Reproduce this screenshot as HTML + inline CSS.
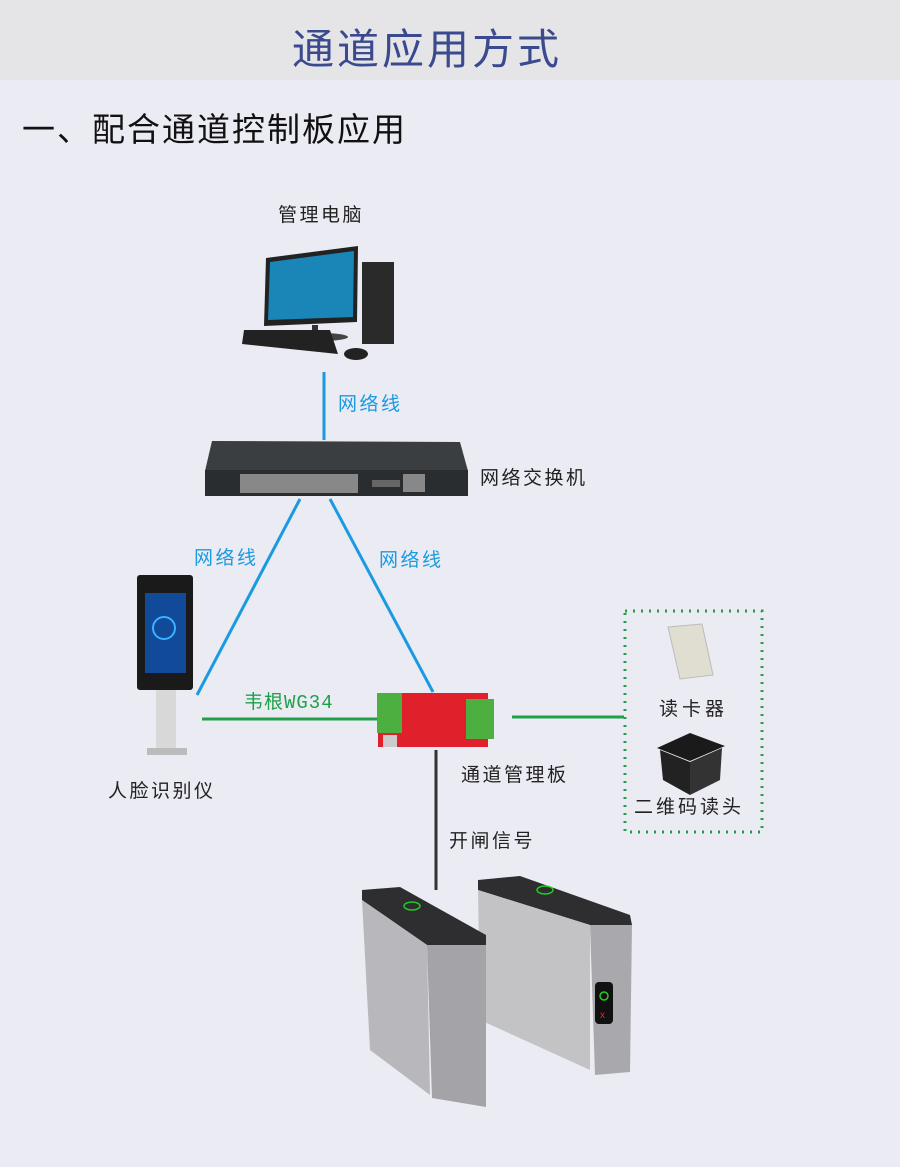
<!DOCTYPE html>
<html><head><meta charset="utf-8"><style>
body{margin:0;width:900px;height:1167px;background:#ebebf4;overflow:hidden;position:relative;font-family:"Liberation Sans","Noto Sans CJK SC",sans-serif;}
.hdr{position:absolute;left:0;top:0;width:900px;height:80px;background:#e5e5e8;}
.t{position:absolute;white-space:nowrap;letter-spacing:2.5px;}
</style></head><body>
<div class="hdr"></div>
<div class="t" style="left:292px;top:16px;font-size:42px;color:#3b4a8e;letter-spacing:3px;">通道应用方式</div>
<div class="t" style="left:22px;top:103px;font-size:33px;color:#111;letter-spacing:2px;">一、配合通道控制板应用</div>
<div class="t" style="left:278px;top:200px;font-size:19px;color:#222;">管理电脑</div>
<div class="t" style="left:338px;top:389px;font-size:19px;color:#1a9ae0;">网络线</div>
<div class="t" style="left:480px;top:463px;font-size:19px;color:#222;">网络交换机</div>
<div class="t" style="left:194px;top:543px;font-size:19px;color:#1a9ae0;">网络线</div>
<div class="t" style="left:379px;top:545px;font-size:19px;color:#1a9ae0;">网络线</div>
<div class="t" style="left:244px;top:687px;font-size:19px;color:#1fa14a;font-family:'Liberation Mono','Noto Sans CJK SC',monospace;letter-spacing:1px;">韦根WG34</div>
<div class="t" style="left:108px;top:776px;font-size:19px;color:#222;">人脸识别仪</div>
<div class="t" style="left:461px;top:760px;font-size:19px;color:#222;">通道管理板</div>
<div class="t" style="left:659px;top:694px;font-size:19px;color:#222;letter-spacing:4px;">读卡器</div>
<div class="t" style="left:634px;top:792px;font-size:19px;color:#222;letter-spacing:3px;">二维码读头</div>
<div class="t" style="left:449px;top:826px;font-size:19px;color:#222;">开闸信号</div>
<svg width="900" height="1167" style="position:absolute;left:0;top:0">
<line x1="324" y1="372" x2="324" y2="440" stroke="#1a9ae0" stroke-width="3"/>
<line x1="300" y1="499" x2="197" y2="695" stroke="#1a9ae0" stroke-width="3"/>
<line x1="330" y1="499" x2="433" y2="692" stroke="#1a9ae0" stroke-width="3"/>
<line x1="202" y1="719" x2="377" y2="719" stroke="#1fa14a" stroke-width="3"/>
<line x1="512" y1="717" x2="624" y2="717" stroke="#1fa14a" stroke-width="3"/>
<line x1="436" y1="750" x2="436" y2="890" stroke="#333" stroke-width="3"/>
<rect x="625" y="611" width="137" height="221" fill="none" stroke="#1fa14a" stroke-width="3" stroke-dasharray="2,6"/>
<polygon points="266,258 358,246 357,322 264,326" fill="#222"/>
<polygon points="270,262 354,251 353,317 268,320" fill="#1a86b8"/>
<rect x="312" y="325" width="6" height="10" fill="#333"/>
<ellipse cx="320" cy="337" rx="28" ry="4" fill="#444"/>
<rect x="362" y="262" width="32" height="82" fill="#2a2a2a"/>
<polygon points="244,330 330,330 338,354 242,344" fill="#222"/>
<ellipse cx="356" cy="354" rx="12" ry="6" fill="#222"/>
<polygon points="212,441 460,442 468,471 205,471" fill="#3a3e40"/>
<rect x="205" y="470" width="263" height="26" fill="#2a2d2f"/>
<rect x="240" y="474" width="118" height="19" fill="#888"/>
<rect x="403" y="474" width="22" height="18" fill="#888"/>
<rect x="372" y="480" width="28" height="7" fill="#666"/>
<rect x="137" y="575" width="56" height="115" rx="3" fill="#1a1a1a"/>
<rect x="145" y="593" width="41" height="80" fill="#124a9a"/>
<circle cx="164" cy="628" r="11" fill="none" stroke="#3bb0ff" stroke-width="2"/>
<rect x="156" y="690" width="20" height="58" fill="#d8d8d8"/>
<rect x="147" y="748" width="40" height="7" fill="#bbb"/>
<rect x="378" y="693" width="110" height="54" fill="#e0202a"/>
<rect x="377" y="693" width="25" height="40" fill="#4caf3f"/>
<rect x="466" y="699" width="28" height="40" fill="#4caf3f"/>
<rect x="383" y="735" width="14" height="12" fill="#ccc"/>
<polygon points="668,627 702,624 713,675 680,679" fill="#e0ded0" stroke="#bbb"/>
<polygon points="657,748 690,733 725,746 690,761" fill="#1a1a1a"/>
<polygon points="660,750 690,762 690,795 663,780" fill="#222"/>
<polygon points="690,762 722,748 720,780 690,795" fill="#333"/>
<polygon points="478,880 520,876 630,915 632,925 590,925 478,890" fill="#2e2e30"/>
<polygon points="478,890 590,925 590,1070 480,1020" fill="#c3c3c6"/>
<polygon points="590,925 632,925 630,1072 595,1075" fill="#a9a9ad"/>
<rect x="595" y="982" width="18" height="42" rx="4" fill="#111"/>
<circle cx="604" cy="996" r="4" fill="none" stroke="#2c2" stroke-width="1.5"/>
<text x="600" y="1018" font-size="10" fill="#e22">x</text>
<polygon points="362,890 400,887 486,935 486,945 427,945 362,900" fill="#2e2e30"/>
<polygon points="362,900 427,945 430,1095 370,1050" fill="#b8b8bc"/>
<polygon points="427,945 486,945 486,1107 432,1098" fill="#a3a3a8"/>
<ellipse cx="412" cy="906" rx="8" ry="4" fill="none" stroke="#2c2" stroke-width="1.5"/>
<ellipse cx="545" cy="890" rx="8" ry="4" fill="none" stroke="#2c2" stroke-width="1.5"/>
</svg>
</body></html>
